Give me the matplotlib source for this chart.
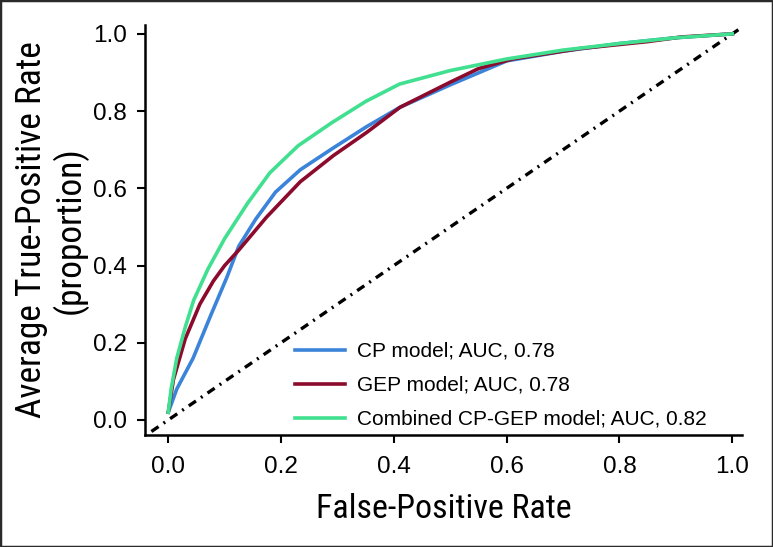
import numpy as np
import matplotlib
matplotlib.use("Agg")
import matplotlib.pyplot as plt

# ROC curves (FPR, average TPR)
cp_fpr = [0, 0.015, 0.044, 0.075, 0.104, 0.125, 0.155, 0.19, 0.234, 0.293, 0.352, 0.411, 0.5, 0.6, 0.7, 0.8, 0.9, 1.0]
cp_tpr = [0.02, 0.08, 0.16, 0.27, 0.37, 0.45, 0.52, 0.59, 0.648, 0.705, 0.76, 0.81, 0.868, 0.93, 0.955, 0.975, 0.99, 1.0]

gep_fpr = [0, 0.009, 0.03, 0.056, 0.08, 0.1, 0.125, 0.174, 0.234, 0.293, 0.352, 0.411, 0.5, 0.55, 0.61, 0.73, 0.85, 0.91, 1.0]
gep_tpr = [0.02, 0.104, 0.21, 0.3, 0.36, 0.40, 0.44, 0.525, 0.617, 0.685, 0.745, 0.81, 0.875, 0.91, 0.935, 0.962, 0.98, 0.992, 1.0]

comb_fpr = [0, 0.005, 0.015, 0.03, 0.045, 0.07, 0.1, 0.14, 0.18, 0.23, 0.29, 0.35, 0.41, 0.5, 0.6, 0.7, 0.8, 0.9, 1.0]
comb_tpr = [0.02, 0.08, 0.16, 0.24, 0.31, 0.39, 0.47, 0.56, 0.64, 0.71, 0.77, 0.825, 0.87, 0.905, 0.935, 0.958, 0.975, 0.99, 1.0]

chance = [-0.03, 1.025]

labels = ["CP model; AUC, 0.78",
          "GEP model; AUC, 0.78",
          "Combined CP-GEP model; AUC, 0.82"]
colors = ["#3B84D9", "#8C0A2C", "#40E090"]
ticks = [0.0, 0.2, 0.4, 0.6, 0.8, 1.0]

plt.rcParams['font.family'] = ['Liberation Sans', 'DejaVu Sans']
narrow = ['Roboto Condensed', 'Liberation Sans', 'DejaVu Sans']

fig = plt.figure(figsize=(7.73, 5.47), dpi=100)
ax = fig.add_axes([0.1876, 0.2048, 0.9595 - 0.1876, 0.9543 - 0.2048])

ax.plot(chance, chance, color='black', lw=2.4, linestyle=(0, (2.6, 1.8, 0.6, 1.8)))
ax.plot(cp_fpr, cp_tpr, color=colors[0], lw=2.6, label=labels[0])
ax.plot(gep_fpr, gep_tpr, color=colors[1], lw=2.6, label=labels[1])
ax.plot(comb_fpr, comb_tpr, color=colors[2], lw=2.6, label=labels[2])

ax.set_xlim(-0.0413, 1.0167)
ax.set_ylim(-0.039, 1.023)
ax.set_xticks(ticks)
ax.set_yticks(ticks)
ax.set_xticklabels([f"{t:.1f}" for t in ticks])
ax.set_yticklabels([f"{t:.1f}" for t in ticks])

for s in ['top', 'right']:
    ax.spines[s].set_visible(False)
for s in ['left', 'bottom']:
    ax.spines[s].set_linewidth(1.8)
ax.tick_params(axis='both', direction='out', length=6, width=1.5, labelsize=17.5)
ax.tick_params(axis='x', pad=9)
ax.tick_params(axis='y', pad=7)

ax.set_xlabel("False-Positive Rate", fontsize=24.5, family=narrow, labelpad=11)
ax.set_ylabel("Average True-Positive Rate\n(proportion)", fontsize=25.5, family=narrow,
              labelpad=4, linespacing=1.1)

ax.legend(loc='lower left', bbox_to_anchor=(0.252, 0.015), frameon=False, fontsize=15,
          handlelength=2.4, handletextpad=0.55, labelspacing=0.72, borderpad=0, borderaxespad=0)

fig.add_artist(plt.Rectangle((0, 0), 1, 1, transform=fig.transFigure, fill=False,
                             lw=2.5, edgecolor='#2a2a2a'))

fig.savefig("out.png", dpi=100)
